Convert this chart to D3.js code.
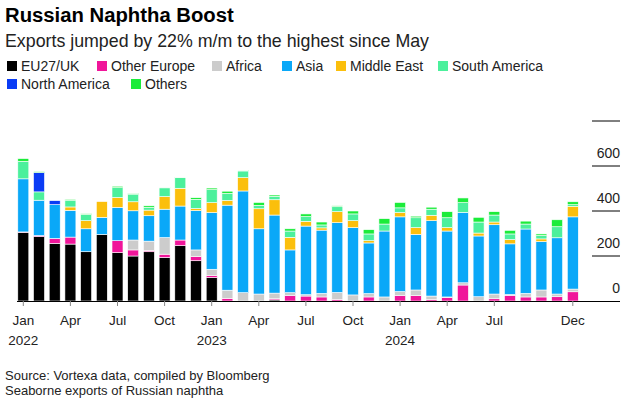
<!DOCTYPE html>
<html>
<head>
<meta charset="utf-8">
<script src="https://cdn.jsdelivr.net/npm/d3@7"></script>
<style>
  html, body { margin: 0; padding: 0; background: #fff; }
  svg { display: block; font-family: "Liberation Sans", Arial, sans-serif; }
</style>
</head>
<body>
<svg id="chart" width="634" height="400"></svg>
<script>
// ---------- DATA ----------
const months = ["2022-01","2022-02","2022-03","2022-04","2022-05","2022-06","2022-07","2022-08","2022-09","2022-10","2022-11","2022-12",
                "2023-01","2023-02","2023-03","2023-04","2023-05","2023-06","2023-07","2023-08","2023-09","2023-10","2023-11","2023-12",
                "2024-01","2024-02","2024-03","2024-04","2024-05","2024-06","2024-07","2024-08","2024-09","2024-10","2024-11","2024-12"];

const seriesNames = ["EU27/UK","Other Europe","Africa","Asia","Middle East","South America","North America","Others"];

const eu27uk       = [305,286,256,253,219,296,215,200,219,193,246,179, 104,0,0,0,5,0,0,0,0,0,0,0, 0,0,0,0,0,0,0,0,0,0,0,0];
const otherEurope  = [2,5,22,31,0,0,53,27,6,15,25,18, 9,12,0,0,5,24,22,18,7,0,18,0, 24,24,7,15,71,0,10,25,18,18,19,41];
const africa       = [0,0,0,0,0,0,0,44,41,74,0,30, 28,36,37,31,25,13,6,16,31,27,15,18, 18,25,15,3,10,19,21,4,16,31,12,12];
const asia         = [236,157,150,119,102,76,148,130,113,126,151,175, 252,378,452,290,347,190,305,281,310,299,225,293, 332,247,335,293,313,270,308,225,286,215,250,321];
const middleEast   = [0,0,0,15,36,70,44,40,25,56,79,9, 44,21,59,89,68,56,21,10,49,31,10,0, 19,30,24,15,0,13,12,19,0,12,0,47];
const southAmerica = [78,37,0,30,28,0,44,34,12,39,47,41, 58,31,30,15,15,28,21,13,22,30,30,31, 21,44,27,44,43,49,31,25,22,15,49,7];
const northAmerica = [0,86,18,0,0,0,0,0,0,0,0,0, 0,0,0,0,0,0,0,0,0,0,0,0, 0,0,0,0,0,0,0,0,0,0,0,0];
const others       = [12,4,0,4,3,0,6,3,7,3,3,7, 7,10,3,13,6,10,12,13,4,13,19,24, 24,7,9,27,21,21,15,16,13,7,31,13];

const yTicks = [0,200,400,600,800];
const yTickLabels = ["0","200","400","600",""];
const monthTickIdx = [0,3,6,9,12,15,18,21,24,27,30,35];
const monthTickLabels = ["Jan","Apr","Jul","Oct","Jan","Apr","Jul","Oct","Jan","Apr","Jul","Dec"];
const yearLabels = [{idx:0,label:"2022"},{idx:12,label:"2023"},{idx:24,label:"2024"}];

const colors = ["#000000","#f0169a","#cccccc","#0aa8f8","#fbbf0c","#4cf09c","#0a3cf5","#1bec3a"];

const title = "Russian Naphtha Boost";
const subtitle = "Exports jumped by 22% m/m to the highest since May";
const source1 = "Source: Vortexa data, compiled by Bloomberg";
const source2 = "Seaborne exports of Russian naphtha";

// ---------- BUILD TABLE ----------
const seriesArrays = [eu27uk, otherEurope, africa, asia, middleEast, southAmerica, northAmerica, others];
const table = months.map((m, i) => {
  const row = { month: m, idx: i };
  seriesNames.forEach((s, j) => row[s] = seriesArrays[j][i]);
  return row;
});

const svg = d3.select("#chart");

// ---------- SCALES ----------
const x = d3.scaleBand()
  .domain(d3.range(months.length))
  .range([15.45, 15.45 + 15.7 * 36])
  .paddingInner(0.3)
  .paddingOuter(0.15);

const y = d3.scaleLinear().domain([0, 800]).range([301, 121]);

// ---------- TITLES ----------
svg.append("text").attr("x", 5).attr("y", 22)
  .attr("font-size", 20.3).attr("font-weight", "bold").attr("fill", "#000")
  .text(title);
svg.append("text").attr("x", 5).attr("y", 47)
  .attr("font-size", 17.8).attr("fill", "#222")
  .text(subtitle);

// ---------- LEGEND ----------
const legendPos = [
  {x:7, y:66},{x:97, y:66},{x:212, y:66},{x:282, y:66},{x:336, y:66},{x:438, y:66},
  {x:7, y:84},{x:131, y:84}
];
const lg = svg.append("g");
seriesNames.forEach((s, i) => {
  const p = legendPos[i];
  lg.append("rect").attr("x", p.x).attr("y", p.y - 5).attr("width", 10).attr("height", 10).attr("fill", colors[i]);
  lg.append("text").attr("x", p.x + 14).attr("y", p.y + 5).attr("font-size", 14).attr("fill", "#222").text(s);
});

// ---------- GRID / RIGHT AXIS ----------
const grid = svg.append("g");
yTicks.forEach((t, i) => {
  if (t === 0) return;
  grid.append("line").attr("x1", 592).attr("x2", 620).attr("y1", y(t)).attr("y2", y(t))
    .attr("stroke", "#000").attr("stroke-width", 1);
});
yTicks.forEach((t, i) => {
  if (!yTickLabels[i]) return;
  grid.append("text").attr("x", 620).attr("y", y(t) - 8).attr("text-anchor", "end")
    .attr("font-size", 14).attr("fill", "#222").text(yTickLabels[i]);
});

// ---------- BARS ----------
const stack = d3.stack().keys(seriesNames);
const stacked = stack(table);
const barsG = svg.append("g");
stacked.forEach((layer, li) => {
  barsG.append("g").attr("fill", colors[li])
    .selectAll("rect")
    .data(layer.filter(d => d[1] - d[0] > 0))
    .join("rect")
    .attr("x", d => x(d.data.idx))
    .attr("width", x.bandwidth())
    .attr("y", d => y(d[1]))
    .attr("height", d => y(d[0]) - y(d[1]))
    .attr("stroke", "#fff")
    .attr("stroke-width", 0.6);
});

// ---------- BOTTOM AXIS ----------
svg.append("line").attr("x1", 17).attr("x2", 620).attr("y1", 301.5).attr("y2", 301.5)
  .attr("stroke", "#000").attr("stroke-width", 1);

const xAxis = d3.axisBottom(x)
  .tickValues(monthTickIdx)
  .tickFormat((d, i) => monthTickLabels[i])
  .tickSize(5)
  .tickPadding(9);
const ax = svg.append("g").attr("transform", "translate(0,301)").call(xAxis);
ax.select(".domain").remove();
ax.selectAll(".tick line").attr("stroke", "#888");
ax.selectAll(".tick text").attr("font-size", 13.5).attr("fill", "#222")
  .attr("font-family", "Liberation Sans, Arial, sans-serif");

yearLabels.forEach(yl => {
  svg.append("text").attr("x", x(yl.idx) + x.bandwidth() / 2).attr("y", 345)
    .attr("text-anchor", "middle").attr("font-size", 13.5).attr("fill", "#222").text(yl.label);
});

// ---------- SOURCE ----------
svg.append("text").attr("x", 5).attr("y", 380).attr("font-size", 13).attr("fill", "#222").text(source1);
svg.append("text").attr("x", 5).attr("y", 395).attr("font-size", 13).attr("fill", "#222").text(source2);
</script>
</body>
</html>
